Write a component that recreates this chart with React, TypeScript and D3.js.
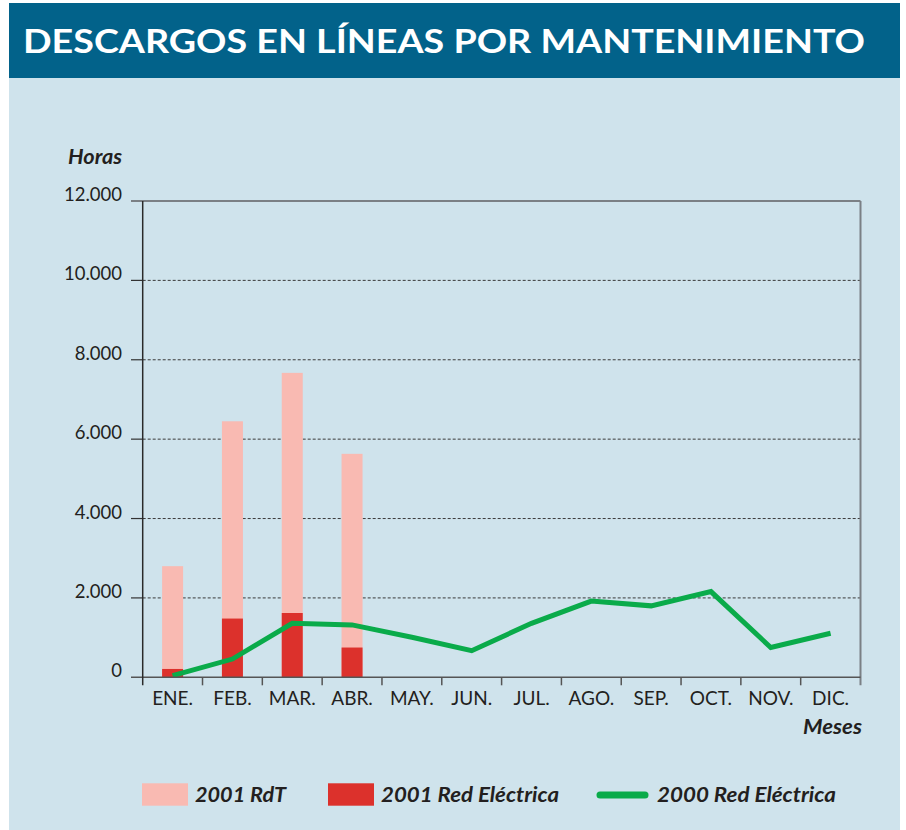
import React from "react";
import * as d3 from "d3";

const months = ["ENE.", "FEB.", "MAR.", "ABR.", "MAY.", "JUN.", "JUL.", "AGO.", "SEP.", "OCT.", "NOV.", "DIC."];
const rdt2001 = [2800, 6450, 7670, 5630];
const re2001 = [210, 1480, 1620, 750];
const re2000 = [40, 460, 1360, 1320, 1010, 670, 1360, 1920, 1800, 2160, 750, 1110];
const yTicks = [0, 2000, 4000, 6000, 8000, 10000, 12000];
const title = "DESCARGOS EN LÍNEAS POR MANTENIMIENTO";
const legendLabels = ["2001 RdT", "2001 Red Eléctrica", "2000 Red Eléctrica"];

const W = 906, H = 830;
const FONT = "Lato, 'Open Sans', sans-serif";
const TXT = "#231f20";
const C_PINK = "#f9bab2";
const C_RED = "#dc312c";
const C_GREEN = "#0aab4a";

const locale = d3.formatLocale({ decimal: ",", thousands: ".", grouping: [3], currency: ["", ""] });
const fmt = locale.format(",d");

export default function App() {
  const left = 142.7, right = 860.5, top = 201, bottom = 677.3;
  const x = d3.scaleBand<string>().domain(months).range([left, right]).padding(0);
  const y = d3.scaleLinear().domain([0, 12000]).range([bottom, top]);
  const bw = x.bandwidth();
  const barW = 21;
  const cx = (m: string) => (x(m) as number) + bw / 2;

  const line = d3
    .line<number>()
    .x((_, i) => cx(months[i]))
    .y((d) => y(d));

  const legendItalic = { fill: TXT, fontSize: 21, fontWeight: 700, fontStyle: "italic" as const, lengthAdjust: "spacingAndGlyphs" };

  return (
    <svg width={W} height={H} style={{ position: "absolute", left: 0, top: 0, background: "#fff" }} fontFamily={FONT}>
      <rect x={9} y={3} width={891} height={827} fill="#cfe3ec" />
      <rect x={9} y={3} width={891} height={75} fill="#02628a" />
      <text x={23} y={53} fill="#fff" fontSize={33} fontWeight={700} textLength={842} lengthAdjust="spacingAndGlyphs">
        {title}
      </text>

      {/* Horas */}
      <text x={68} y={164} fill={TXT} fontSize={20} fontWeight={700} fontStyle="italic" textLength={54} lengthAdjust="spacingAndGlyphs">Horas</text>

      {/* grid */}
      {yTicks.filter((t) => t > 0 && t < 12000).map((t) => (
        <g key={t}>
          <line x1={131} x2={left} y1={y(t)} y2={y(t)} stroke="#333" strokeWidth={1.2} />
          <line x1={left} x2={right} y1={y(t)} y2={y(t)} stroke="#3a3a3a" strokeWidth={1} strokeDasharray="3,2" />
        </g>
      ))}
      {/* top frame and right frame */}
      <line x1={131} x2={right} y1={top} y2={top} stroke="#7b8085" strokeWidth={2} />
      <line x1={right} x2={right} y1={top} y2={bottom + 8} stroke="#7b8085" strokeWidth={2} />

      {/* y tick labels */}
      {yTicks.map((t) => (
        <text key={t} x={122} y={y(t)} textAnchor="end" fill={TXT} fontSize={18.5}>
          {fmt(t)}
        </text>
      ))}

      {/* bars */}
      {rdt2001.map((v, i) => (
        <rect key={"p" + i} x={cx(months[i]) - barW / 2} y={y(v)} width={barW} height={bottom - y(v)} fill={C_PINK} />
      ))}
      {re2001.map((v, i) => (
        <rect key={"r" + i} x={cx(months[i]) - barW / 2} y={y(v)} width={barW} height={bottom - y(v)} fill={C_RED} />
      ))}

      {/* line */}
      <path d={line(re2000) || ""} fill="none" stroke={C_GREEN} strokeWidth={5} strokeLinejoin="miter" />

      {/* axes */}
      <line x1={131} x2={right} y1={bottom} y2={bottom} stroke="#555" strokeWidth={1.5} />
      <line x1={left} x2={left} y1={top} y2={bottom + 8} stroke="#2a2a2a" strokeWidth={1.5} />
      {months.map((m, i) =>
        i > 0 ? (
          <line key={"t" + m} x1={x(m) as number} x2={x(m) as number} y1={bottom} y2={bottom + 8} stroke="#555" strokeWidth={1.5} />
        ) : null
      )}
      {months.map((m) => (
        <text key={m} x={cx(m)} y={705} textAnchor="middle" fill={TXT} fontSize={19}>
          {m}
        </text>
      ))}
      <text x={803} y={734} fill={TXT} fontSize={20} fontWeight={700} fontStyle="italic" textLength={59} lengthAdjust="spacingAndGlyphs">Meses</text>

      {/* legend */}
      <rect x={142} y={783.3} width={46} height={22.4} fill={C_PINK} />
      <text x={195} y={802} {...legendItalic} textLength={91}>{legendLabels[0]}</text>
      <rect x={328} y={783.3} width={46} height={22.4} fill={C_RED} />
      <text x={381} y={802} {...legendItalic} textLength={178}>{legendLabels[1]}</text>
      <line x1={600} x2={645} y1={795} y2={795} stroke={C_GREEN} strokeWidth={7} strokeLinecap="round" />
      <text x={657} y={802} {...legendItalic} textLength={179}>{legendLabels[2]}</text>
    </svg>
  );
}
